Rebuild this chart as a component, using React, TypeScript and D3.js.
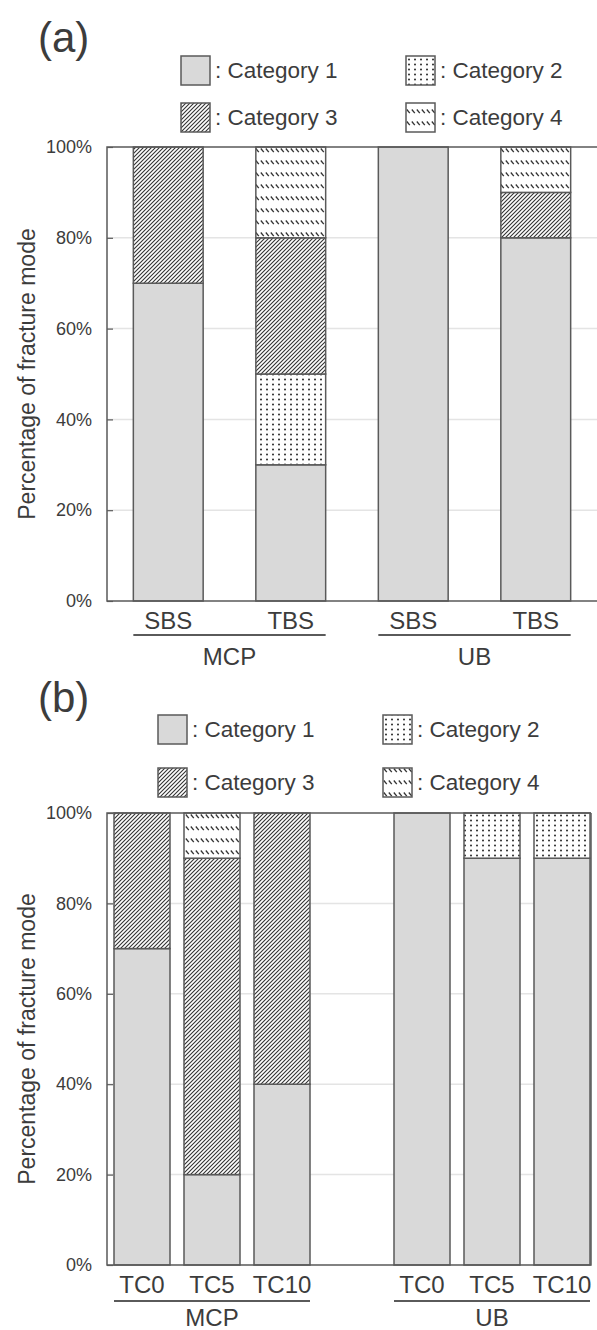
import React, { useRef, useEffect } from 'react'
import * as d3 from 'd3'

// fracture mode shares (%), one entry per bar
const categories = [': Category 1', ': Category 2', ': Category 3', ': Category 4']
const keys = ['c1', 'c2', 'c3', 'c4']
const yTicks = [0, 20, 40, 60, 80, 100]

const groupsA = ['MCP', 'UB']
const barsA = ['SBS', 'TBS']
const cat1A = [70, 30, 100, 80]
const cat2A = [0, 20, 0, 0]
const cat3A = [30, 30, 0, 10]
const cat4A = [0, 20, 0, 10]

const groupsB = ['MCP', 'UB']
const barsB = ['TC0', 'TC5', 'TC10']
const cat1B = [70, 20, 40, 100, 90, 90]
const cat2B = [0, 0, 0, 0, 10, 10]
const cat3B = [30, 70, 60, 0, 0, 0]
const cat4B = [0, 10, 0, 0, 0, 0]

const W = 597
const H = 1330
const FONT = 'Liberation Sans, Arial, sans-serif'
const TEXT = '#3c3c3c'
const EDGE = '#5a5a5a'

const panels = [
  {
    id: 'a', tag: '(a)', groups: groupsA, bars: barsA, series: [cat1A, cat2A, cat3A, cat4A],
    top: 147, bottom: 601, left: 107, right: 597, frameRight: 598,
    groupPad: 0, barPad: 0.43,
    tagY: 52, legendX: [181, 406], legendY: [70, 117],
    labelY: 629, lineY: 635, groupY: 665,
  },
  {
    id: 'b', tag: '(b)', groups: groupsB, bars: barsB, series: [cat1B, cat2B, cat3B, cat4B],
    top: 813, bottom: 1265, left: 107, right: 597, frameRight: 591,
    groupPad: 0.25, barPad: 0.2,
    tagY: 712, legendX: [158, 383], legendY: [729, 782],
    labelY: 1293, lineY: 1301, groupY: 1326,
  },
]

const App = () => {
  const svgRef = useRef(null)

  useEffect(() => {
    const svg = d3.select(svgRef.current)
    svg.selectAll('*').remove()
    const defs = svg.append('defs')

    panels.forEach(p => {
      // hatch patterns, aligned to the plot top
      const tr = `translate(0, ${p.top})`
      const p2 = defs.append('pattern').attr('id', `dots-${p.id}`)
        .attr('width', 6).attr('height', 5).attr('patternUnits', 'userSpaceOnUse')
        .attr('patternTransform', tr)
      p2.append('rect').attr('width', 6).attr('height', 5).attr('fill', '#fff')
      p2.append('circle').attr('cx', 3).attr('cy', 2.5).attr('r', 1).attr('fill', '#2a2a2a')

      const p3 = defs.append('pattern').attr('id', `diag-${p.id}`)
        .attr('width', 4).attr('height', 4).attr('patternUnits', 'userSpaceOnUse')
        .attr('patternTransform', tr)
      p3.append('rect').attr('width', 4).attr('height', 4).attr('fill', '#fff')
      p3.append('path').attr('d', 'M-1,1 L1,-1 M0,4 L4,0 M3,5 L5,3')
        .attr('stroke', '#333').attr('stroke-width', 1.1)

      const p4 = defs.append('pattern').attr('id', `dash-${p.id}`)
        .attr('width', 5).attr('height', 12).attr('patternUnits', 'userSpaceOnUse')
        .attr('patternTransform', tr)
      p4.append('rect').attr('width', 5).attr('height', 12).attr('fill', '#fff')
      p4.append('path').attr('d', 'M0.8,1.5 L3.8,5.2')
        .attr('stroke', '#333').attr('stroke-width', 1.3)

      const fills = ['#d9d9d9', `url(#dots-${p.id})`, `url(#diag-${p.id})`, `url(#dash-${p.id})`]

      const g = svg.append('g')

      const y = d3.scaleLinear().domain([0, 100]).range([p.bottom, p.top])
      const xGroup = d3.scaleBand().domain(p.groups).range([p.left, p.right])
        .paddingInner(p.groupPad).paddingOuter(0)
      const xBar = d3.scaleBand().domain(p.bars).range([0, xGroup.bandwidth()])
        .paddingInner(p.barPad).paddingOuter(p.barPad / 2)

      const rows = p.groups.flatMap((grp, gi) => p.bars.map((b, bi) => {
        const i = gi * p.bars.length + bi
        return { grp, bar: b, c1: p.series[0][i], c2: p.series[1][i], c3: p.series[2][i], c4: p.series[3][i] }
      }))
      const stacked = d3.stack().keys(keys)(rows)

      // gridlines
      g.selectAll('.grid').data(yTicks.filter(t => t > 0 && t < 100)).join('line')
        .attr('x1', p.left).attr('x2', p.frameRight)
        .attr('y1', d => y(d)).attr('y2', d => y(d))
        .attr('stroke', '#e4e4e4').attr('stroke-width', 1.5)

      // bars
      stacked.forEach((layer, k) => {
        g.append('g').selectAll('rect').data(layer.filter(d => d[1] - d[0] > 0)).join('rect')
          .attr('x', d => xGroup(d.data.grp) + xBar(d.data.bar))
          .attr('width', xBar.bandwidth())
          .attr('y', d => y(d[1]))
          .attr('height', d => y(d[0]) - y(d[1]))
          .attr('fill', fills[k])
          .attr('stroke', EDGE).attr('stroke-width', 1.5)
      })

      // frame
      g.append('path')
        .attr('d', `M${p.frameRight},${p.top} H${p.left} V${p.bottom} H${p.frameRight}` + (p.frameRight < W ? ` V${p.top}` : ''))
        .attr('fill', 'none').attr('stroke', EDGE).attr('stroke-width', 1.5)

      // y axis
      const yAxis = d3.axisLeft(y).tickValues(yTicks).tickFormat(d => `${d}%`).tickSize(-6).tickPadding(15)
      const ya = g.append('g').attr('transform', `translate(${p.left},0)`).call(yAxis)
      ya.select('.domain').remove()
      ya.selectAll('line').attr('stroke', EDGE).attr('stroke-width', 1.2)
      ya.selectAll('text').attr('font-family', FONT).attr('font-size', 18).attr('fill', TEXT)

      g.append('text')
        .attr('transform', `translate(35, ${(p.top + p.bottom) / 2}) rotate(-90)`)
        .attr('text-anchor', 'middle').attr('font-family', FONT).attr('font-size', 23).attr('fill', TEXT)
        .text('Percentage of fracture mode')

      // x labels
      g.selectAll('.xl').data(rows).join('text')
        .attr('x', d => xGroup(d.grp) + xBar(d.bar) + xBar.bandwidth() / 2)
        .attr('y', p.labelY)
        .attr('text-anchor', 'middle').attr('font-family', FONT).attr('font-size', 24).attr('fill', TEXT)
        .text(d => d.bar)

      const firstBar = p.bars[0]
      const lastBar = p.bars[p.bars.length - 1]
      p.groups.forEach(grp => {
        const x0 = xGroup(grp) + xBar(firstBar)
        const x1 = xGroup(grp) + xBar(lastBar) + xBar.bandwidth()
        g.append('line').attr('x1', x0).attr('x2', x1).attr('y1', p.lineY).attr('y2', p.lineY)
          .attr('stroke', EDGE).attr('stroke-width', 2)
        g.append('text').attr('x', (x0 + x1) / 2).attr('y', p.groupY)
          .attr('text-anchor', 'middle').attr('font-family', FONT).attr('font-size', 24).attr('fill', TEXT)
          .text(grp)
      })

      // panel tag
      g.append('text').attr('x', 38).attr('y', p.tagY)
        .attr('font-family', FONT).attr('font-size', 42).attr('fill', TEXT).text(p.tag)

      // legend
      categories.forEach((c, k) => {
        const lx = p.legendX[k % 2]
        const ly = p.legendY[Math.floor(k / 2)]
        const lg = g.append('g').attr('transform', `translate(${lx},${ly})`)
        lg.append('rect').attr('x', 0).attr('y', -14).attr('width', 29).attr('height', 29)
          .attr('fill', fills[k]).attr('stroke', EDGE).attr('stroke-width', 1.5)
        lg.append('text').attr('x', 34).attr('y', 8)
          .attr('font-family', FONT).attr('font-size', 22.5).attr('fill', TEXT).text(c)
      })
    })
  })

  return (
    <div className='chart'>
      <svg ref={svgRef} width={W} height={H}
        style={{ position: 'absolute', left: 0, top: 0, background: '#fff' }}>
      </svg>
    </div>
  )
}

export default App
